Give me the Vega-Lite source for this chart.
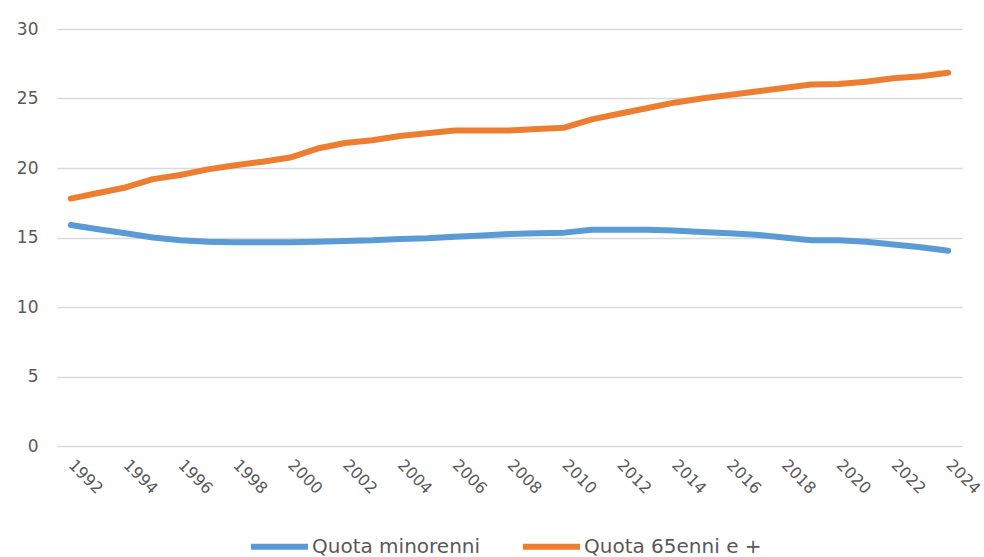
{
  "$schema": "https://vega.github.io/schema/vega-lite/v6.json",
  "width": 905,
  "height": 417,
  "autosize": {"type": "none"},
  "padding": {"left": 57, "top": 29, "right": 22, "bottom": 111},
  "background": "white",
  "config": {
    "view": {"stroke": null},
    "font": "DejaVu Sans"
  },
  "datasets": {
    "minorenni": [
      {"anno": 1992, "valore": 15.9}, {"anno": 1993, "valore": 15.6}, {"anno": 1994, "valore": 15.3},
      {"anno": 1995, "valore": 15.0}, {"anno": 1996, "valore": 14.8}, {"anno": 1997, "valore": 14.7},
      {"anno": 1998, "valore": 14.65}, {"anno": 1999, "valore": 14.65}, {"anno": 2000, "valore": 14.65},
      {"anno": 2001, "valore": 14.7}, {"anno": 2002, "valore": 14.75}, {"anno": 2003, "valore": 14.8},
      {"anno": 2004, "valore": 14.9}, {"anno": 2005, "valore": 14.95}, {"anno": 2006, "valore": 15.05},
      {"anno": 2007, "valore": 15.15}, {"anno": 2008, "valore": 15.25}, {"anno": 2009, "valore": 15.3},
      {"anno": 2010, "valore": 15.35}, {"anno": 2011, "valore": 15.55}, {"anno": 2012, "valore": 15.55},
      {"anno": 2013, "valore": 15.55}, {"anno": 2014, "valore": 15.5}, {"anno": 2015, "valore": 15.4},
      {"anno": 2016, "valore": 15.3}, {"anno": 2017, "valore": 15.2}, {"anno": 2018, "valore": 15.0},
      {"anno": 2019, "valore": 14.8}, {"anno": 2020, "valore": 14.8}, {"anno": 2021, "valore": 14.7},
      {"anno": 2022, "valore": 14.5}, {"anno": 2023, "valore": 14.3}, {"anno": 2024, "valore": 14.05}
    ],
    "anziani": [
      {"anno": 1992, "valore": 17.8}, {"anno": 1993, "valore": 18.2}, {"anno": 1994, "valore": 18.6},
      {"anno": 1995, "valore": 19.2}, {"anno": 1996, "valore": 19.5}, {"anno": 1997, "valore": 19.9},
      {"anno": 1998, "valore": 20.2}, {"anno": 1999, "valore": 20.45}, {"anno": 2000, "valore": 20.75},
      {"anno": 2001, "valore": 21.4}, {"anno": 2002, "valore": 21.8}, {"anno": 2003, "valore": 22.0},
      {"anno": 2004, "valore": 22.3}, {"anno": 2005, "valore": 22.5}, {"anno": 2006, "valore": 22.7},
      {"anno": 2007, "valore": 22.7}, {"anno": 2008, "valore": 22.7}, {"anno": 2009, "valore": 22.8},
      {"anno": 2010, "valore": 22.9}, {"anno": 2011, "valore": 23.5}, {"anno": 2012, "valore": 23.9},
      {"anno": 2013, "valore": 24.3}, {"anno": 2014, "valore": 24.7}, {"anno": 2015, "valore": 25.0},
      {"anno": 2016, "valore": 25.25}, {"anno": 2017, "valore": 25.5}, {"anno": 2018, "valore": 25.75},
      {"anno": 2019, "valore": 26.0}, {"anno": 2020, "valore": 26.05}, {"anno": 2021, "valore": 26.2},
      {"anno": 2022, "valore": 26.45}, {"anno": 2023, "valore": 26.6}, {"anno": 2024, "valore": 26.85}
    ]
  },
  "data": {"name": "minorenni"},
  "transform": [
    {"lookup": "anno", "from": {"data": {"name": "anziani"}, "key": "anno", "fields": ["valore"]}, "as": ["v65"]},
    {"fold": ["valore", "v65"], "as": ["k", "v"]},
    {"calculate": "datum.k == 'valore' ? 'Quota minorenni' : 'Quota 65enni e +'", "as": "serie"}
  ],
  "mark": {"type": "line", "strokeWidth": 6, "strokeCap": "round", "strokeJoin": "round"},
  "encoding": {
    "x": {
      "field": "anno", "type": "quantitative",
      "scale": {"domain": [1991.5, 2024.5], "nice": false, "zero": false},
      "axis": {
        "title": null, "values": [1992,1994,1996,1998,2000,2002,2004,2006,2008,2010,2012,2014,2016,2018,2020,2022,2024],
        "format": "d", "grid": false, "ticks": false, "domain": false,
        "labelAngle": 45, "labelAlign": "left", "labelBaseline": "middle",
        "labelPadding": 16, "labelFontSize": 16, "labelColor": "#595959", "labelFlush": false, "labelOverlap": false
      }
    },
    "y": {
      "field": "v", "type": "quantitative",
      "scale": {"domain": [0, 30], "nice": false},
      "axis": {
        "title": null, "values": [0,5,10,15,20,25,30], "grid": true, "gridColor": "#d9d9d9", "gridWidth": 1.3,
        "ticks": false, "domain": false, "labelPadding": 19, "labelFontSize": 17, "labelColor": "#595959"
      }
    },
    "color": {
      "field": "serie", "type": "nominal",
      "scale": {"domain": ["Quota minorenni", "Quota 65enni e +"], "range": ["#5B9BD5", "#ED7D31"]},
      "legend": {
        "title": null, "orient": "none", "direction": "horizontal", "legendX": 191, "legendY": 486,
        "symbolType": "stroke", "symbolSize": 3249, "symbolStrokeWidth": 6,
        "labelFontSize": 20, "labelLimit": 400, "labelColor": "#595959", "labelOffset": 1, "columnPadding": 30
      }
    }
  }
}
